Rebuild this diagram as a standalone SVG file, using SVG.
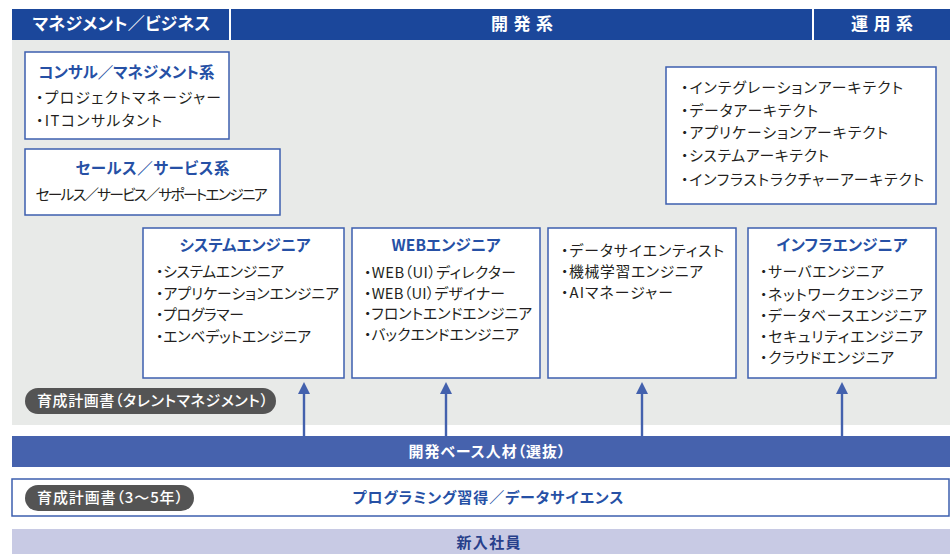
<svg xmlns="http://www.w3.org/2000/svg" width="950" height="554" viewBox="0 0 950 554">
<defs>
<style>
text{font-family:"Noto Sans CJK JP","Noto Sans",sans-serif;font-feature-settings:"palt";}
.hd{fill:#fff;font-size:17px;font-weight:bold;}
.box{fill:#fff;stroke:#3d5fae;stroke-width:1.5;}
.ttl{fill:#2650a5;font-size:15.5px;font-weight:bold;text-anchor:middle;}
.it{fill:#231f20;font-size:14.8px;}
.pill{fill:#545454;}
.pt{fill:#fff;font-size:15px;font-weight:500;}
.conn{stroke:#4361ad;stroke-width:2.4;fill:none;}
</style>
<marker id="ah" viewBox="0 0 12 12" refX="1" refY="6" markerWidth="12" markerHeight="12" markerUnits="userSpaceOnUse" orient="auto">
<path d="M0,0 L12,6 L0,12 z" fill="#4361ad"/>
</marker>
</defs>
<rect x="0" y="0" width="950" height="554" fill="#fff"/>
<rect x="12" y="40" width="938" height="385" fill="#e8eae8"/>
<g id="header">
<rect x="12" y="9" width="938" height="31" fill="#1b479b"/>
<rect x="229" y="9" width="2" height="31" fill="#fff"/>
<rect x="812" y="9" width="2" height="31" fill="#fff"/>
<text class="hd" x="121.5" y="30" text-anchor="middle" textLength="178">マネジメント／ビジネス</text>
<text class="hd" x="491" y="30" textLength="62">開発系</text>
<text class="hd" x="851" y="30" textLength="62">運用系</text>
</g>
<g id="consul">
<rect class="box" x="25" y="52" width="204" height="87"/>
<text class="ttl" x="126.5" y="78" textLength="176">コンサル／マネジメント系</text>
<text class="it" x="36" y="103" textLength="185">・プロジェクトマネージャー</text>
<text class="it" x="36" y="126" textLength="126">・ITコンサルタント</text>
</g>
<g id="sales">
<rect class="box" x="25" y="149" width="255" height="66"/>
<text class="ttl" x="152.5" y="174" textLength="154">セールス／サービス系</text>
<text class="it" x="151.5" y="200" text-anchor="middle" textLength="232">セールス／サービス／サポートエンジニア</text>
</g>
<g id="architect">
<rect class="box" x="666" y="67" width="270" height="137"/>
<text class="it" x="681" y="93" textLength="222">・インテグレーションアーキテクト</text>
<text class="it" x="681" y="116" textLength="137">・データアーキテクト</text>
<text class="it" x="681" y="138" textLength="207">・アプリケーションアーキテクト</text>
<text class="it" x="681" y="161" textLength="148">・システムアーキテクト</text>
<text class="it" x="681" y="185" textLength="243">・インフラストラクチャーアーキテクト</text>
</g>
<g id="syseng">
<rect class="box" x="143" y="228" width="201" height="150"/>
<text class="ttl" x="245" y="251" textLength="131">システムエンジニア</text>
<text class="it" x="156" y="277" textLength="128">・システムエンジニア</text>
<text class="it" x="156" y="299" textLength="183">・アプリケーションエンジニア</text>
<text class="it" x="156" y="320" textLength="88">・プログラマー</text>
<text class="it" x="156" y="342" textLength="155">・エンベデットエンジニア</text>
</g>
<g id="webeng">
<rect class="box" x="352" y="228" width="188" height="150"/>
<text class="ttl" x="446" y="251" textLength="109">WEBエンジニア</text>
<text class="it" x="364" y="278" textLength="152">・WEB（UI）ディレクター</text>
<text class="it" x="364" y="299" textLength="141">・WEB（UI）デザイナー</text>
<text class="it" x="364" y="319" textLength="168">・フロントエンドエンジニア</text>
<text class="it" x="364" y="340" textLength="155">・バックエンドエンジニア</text>
</g>
<g id="ai">
<rect class="box" x="548" y="228" width="188" height="150"/>
<text class="it" x="561" y="256" textLength="163">・データサイエンティスト</text>
<text class="it" x="561" y="277" textLength="142">・機械学習エンジニア</text>
<text class="it" x="561" y="298" textLength="112">・AIマネージャー</text>
</g>
<g id="infra">
<rect class="box" x="748" y="228" width="188" height="150"/>
<text class="ttl" x="842" y="251" textLength="131">インフラエンジニア</text>
<text class="it" x="760" y="277" textLength="124">・サーバエンジニア</text>
<text class="it" x="760" y="300" textLength="163">・ネットワークエンジニア</text>
<text class="it" x="760" y="321" textLength="167">・データベースエンジニア</text>
<text class="it" x="760" y="342" textLength="163">・セキュリティエンジニア</text>
<text class="it" x="760" y="363" textLength="134">・クラウドエンジニア</text>
</g>
<g id="talent">
<rect class="pill" x="25" y="388" width="251" height="26" rx="13"/>
<text class="pt" x="37" y="406" textLength="231">育成計画書（タレントマネジメント）</text>
</g>
<g id="connectors">
<line class="conn" x1="304" y1="436" x2="304" y2="393" marker-end="url(#ah)"/>
<line class="conn" x1="446" y1="436" x2="446" y2="393" marker-end="url(#ah)"/>
<line class="conn" x1="642" y1="436" x2="642" y2="393" marker-end="url(#ah)"/>
<line class="conn" x1="842" y1="436" x2="842" y2="393" marker-end="url(#ah)"/>
</g>
<g id="base">
<rect x="12" y="436" width="938" height="31" fill="#4662ad"/>
<text x="487" y="457" fill="#fff" font-size="15" font-weight="bold" text-anchor="middle" textLength="157">開発ベース人材（選抜）</text>
</g>
<g id="training">
<rect x="12" y="479" width="937" height="37" fill="#fff" stroke="#3d5fae" stroke-width="1.5"/>
<rect class="pill" x="25" y="485" width="169" height="26" rx="13"/>
<text class="pt" x="37" y="503" textLength="146">育成計画書（3〜5年）</text>
<text x="488" y="503" fill="#2650a5" font-size="15" font-weight="bold" text-anchor="middle" textLength="271">プログラミング習得／データサイエンス</text>
</g>
<g id="newhire">
<rect x="12" y="529" width="938" height="25" fill="#c8cae4"/>
<text x="488.5" y="548" fill="#27408b" font-size="15" font-weight="bold" text-anchor="middle" textLength="64">新入社員</text>
</g>
</svg>
